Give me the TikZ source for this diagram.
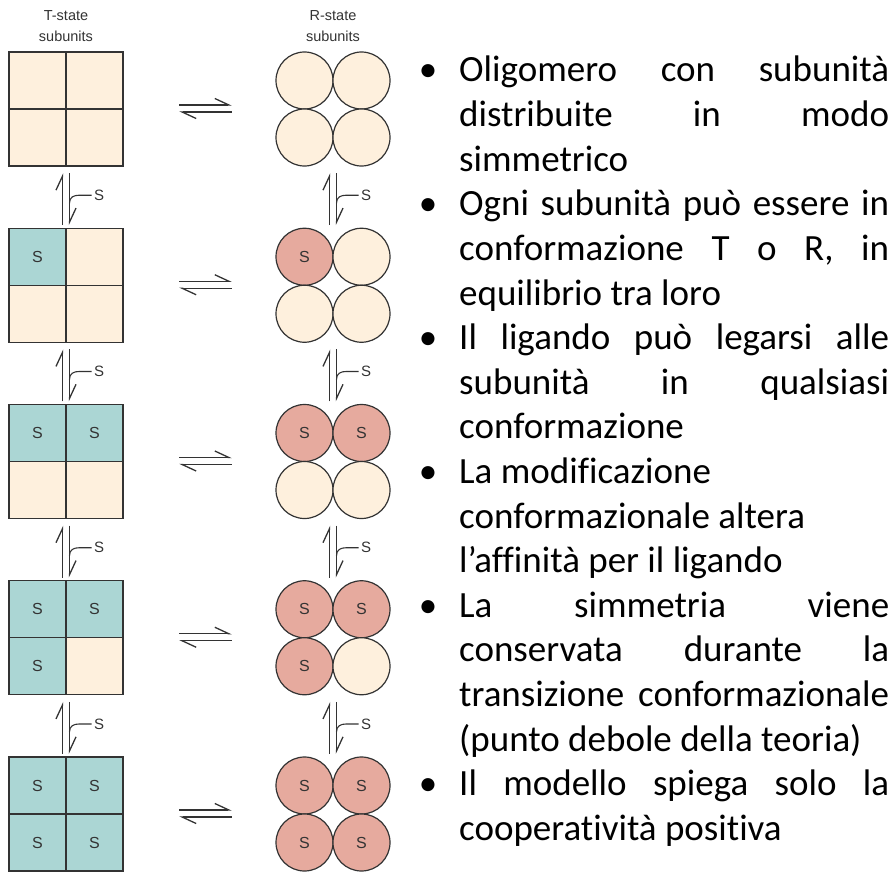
\documentclass[tikz,border=0pt]{standalone}
\usepackage{fontspec}
\setmainfont{Carlito}[Ligatures=NoCommon]
\newfontfamily\figfont{Liberation Sans}
\usetikzlibrary{arrows.meta}
\definecolor{ink}{RGB}{51,51,51}
\definecolor{free}{RGB}{254,240,221}
\definecolor{tbound}{RGB}{171,214,212}
\definecolor{rbound}{RGB}{230,170,158}
\tolerance=10000
\hyphenpenalty=10000

\begin{document}
\begin{tikzpicture}[x=1pt, y=-1pt,
    group/.style={minimum size=114pt, inner sep=0pt},
    cell/.style={draw=ink, line width=1.2pt, minimum size=57pt, inner sep=0pt,
      text=ink, font=\figfont\fontsize{16}{16}\selectfont},
    ball/.style={cell, circle},
    harp/.style={draw=ink, line width=1.3pt,
      -{Straight Barb[harpoon, length=14pt, width=13pt]}},
    hook/.style={draw=ink, line width=1.1pt},
    head/.style={text=ink, align=center, inner sep=0pt,
      font=\figfont\fontsize{14.5}{21}\selectfont},
    para/.style={text width=430pt, align=justify, inner sep=0pt, anchor=base west,
      font=\fontsize{37}{44.6}\selectfont},
    dot/.style={inner sep=0pt, anchor=base, font=\fontsize{37}{44.6}\selectfont}]
    \useasboundingbox (0,0) rectangle (896,872);

    % column heads
    \node[head, anchor=north] (Thead) at (66,10) {T-state\\subunits};
    \node[head, anchor=north] (Rhead) at (333,10) {R-state\\subunits};

    % the five oligomers, row r has r-1 bound subunits
    \foreach \r in {1,...,5} {
      \pgfmathsetmacro\cy{109+176.25*(\r-1)}
      \node[group] (T\r) at (66,\cy) {};
      \node[group] (R\r) at (333,\cy) {};
      \foreach \c/\dx/\dy in {1/-1/-1, 2/1/-1, 3/-1/1, 4/1/1} {
        \ifnum\c<\r
          \node[cell, fill=tbound] at ([shift={(28.5*\dx,28.5*\dy)}]T\r) {S};
          \node[ball, fill=rbound] at ([shift={(28.5*\dx,28.5*\dy)}]R\r) {S};
        \else
          \node[cell, fill=free] at ([shift={(28.5*\dx,28.5*\dy)}]T\r) {};
          \node[ball, fill=free] at ([shift={(28.5*\dx,28.5*\dy)}]R\r) {};
        \fi
      }
      % T <-> R
      \draw[harp, shorten <=56pt, shorten >=44pt] ([yshift=4pt]T\r.east) -- ([yshift=4pt]R\r.west);
      \draw[harp, shorten <=44pt, shorten >=56pt] ([yshift=-3pt]R\r.west) -- ([yshift=-3pt]T\r.east);
    }

    % binding steps
    \foreach \r [evaluate=\r as \s using int(\r+1)] in {1,...,4} {
      \foreach \col in {T,R} {
        \draw[harp, shorten <=3pt, shorten >=7pt] ([xshift=-3.5pt]\col\s.north) -- ([xshift=-3.5pt]\col\r.south);
        \draw[harp, shorten <=7pt, shorten >=3pt] ([xshift=3.5pt]\col\r.south) -- ([xshift=3.5pt]\col\s.north);
        \draw[hook] ([xshift=3.5pt, yshift=-37pt]\col\r.south)
          .. controls +(0,-6) and +(-6,0) .. ++(10,-8) -- ++(12,0)
          node[right, inner sep=2pt, text=ink, font=\figfont\fontsize{15}{15}\selectfont] (s\col\r) {S};
      }
    }

    % bullet list
    \node[para] (p1) at (459,82) {Oligomero con subunità\linebreak distribuite in modo\linebreak simmetrico};
    \node[para] (p2) at (459,215.8) {Ogni subunità può essere in\linebreak conformazione T o R, in\linebreak equilibrio tra loro};
    \node[para] (p3) at (459,349.6) {Il ligando può legarsi alle\linebreak subunità in qualsiasi\linebreak conformazione};
    \node[para] (p4) at (459,483.4) {La modificazione\newline conformazionale altera\newline l’affinità per il ligando};
    \node[para] (p5) at (459,617.2) {La simmetria viene\linebreak conservata durante la\linebreak transizione conformazionale\linebreak (punto debole della teoria)};
    \node[para] (p6) at (459,795.6) {Il modello spiega solo la\linebreak cooperatività positiva};
    \foreach \p in {1,...,6}
      \node[dot] (d\p) at ([xshift=-31pt]p\p.base west) {•};
\end{tikzpicture}
\end{document}
